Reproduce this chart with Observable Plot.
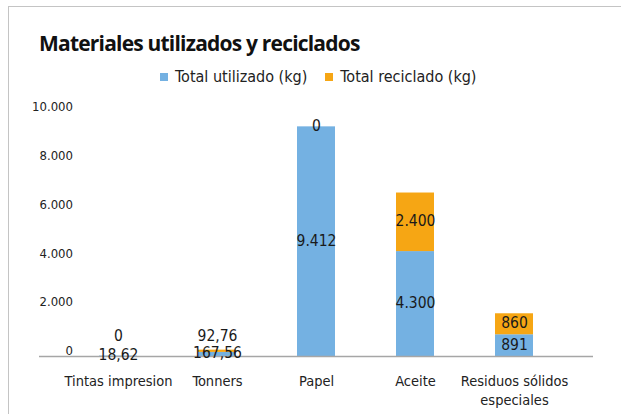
<!DOCTYPE html>
<html>
<head>
<meta charset="utf-8">
<script src="https://cdn.jsdelivr.net/npm/d3@7"></script>
<script src="https://cdn.jsdelivr.net/npm/@observablehq/plot@0.6"></script>
<style>
  html, body { margin: 0; padding: 0; background: #fff; }
  #wrap { position: relative; width: 621px; height: 414px; overflow: hidden; background: #fff;
    font-family: "Liberation Sans Narrow", "DejaVu Sans Condensed", "Roboto", sans-serif; }
  #frame { position: absolute; left: 8px; top: 6px; width: 700px; height: 500px;
    border-left: 1.5px solid #c4c4c4; border-top: 1.5px solid #c4c4c4; }
  #title { position: absolute; left: 39px; top: 29px; font-family: "Open Sans", "Noto Sans", sans-serif;
    font-weight: 700; font-size: 21px; color: #111; letter-spacing: -0.8px; white-space: nowrap; }
  #legend { position: absolute; left: 160px; top: 67px; font-size: 16px; color: #222; white-space: nowrap; display: flex; align-items: center; }
  .sw { display: inline-block; width: 8px; height: 8px; margin-right: 7px; }
  .item { display: flex; align-items: center; margin-right: 18px; }
  #chart { position: absolute; left: 0; top: 0; }
</style>
</head>
<body>
<div id="wrap">
  <div id="frame"></div>
  <div id="chart"></div>
  <div id="title">Materiales utilizados y reciclados</div>
  <div id="legend"></div>
</div>
<script>
const categorias = ["Tintas impresion", "Tonners", "Papel", "Aceite", "Residuos sólidos especiales"];
const utilizado = [18.62, 167.56, 9412, 4300, 891];
const reciclado = [0, 92.76, 0, 2400, 860];
const series = ["Total utilizado (kg)", "Total reciclado (kg)"];
const colores = ["#74b1e2", "#f6a614"];
const yTicks = [0, 2000, 4000, 6000, 8000, 10000];

const loc = d3.formatLocale({decimal: ",", thousands: ".", grouping: [3], currency: ["", "€"]});
const fmt = loc.format(",.2~f");

const rows = [];
categorias.forEach((c, i) => {
  const u = utilizado[i], r = reciclado[i];
  const small = (u + r) < 1000 && u < 500;
  rows.push({cat: c, serie: series[0], value: u, mid: u / 2, small: false});
  rows.push({cat: c, serie: series[1], value: r, mid: small ? 0 : u + r / 2, small});
});

// legend
const leg = d3.select("#legend");
series.forEach((s, i) => {
  const it = leg.append("div").attr("class", "item");
  it.append("span").attr("class", "sw").style("background", colores[i]);
  it.append("span").text(s);
});

const font = '"Liberation Sans Narrow", "DejaVu Sans Condensed", Roboto, sans-serif';

const chart = Plot.plot({
  width: 621,
  height: 414,
  marginLeft: 68.5,
  marginRight: 57.5,
  marginTop: 112,
  marginBottom: 58,
  style: {fontFamily: font, background: "transparent", color: "#222"},
  x: {domain: categorias, paddingInner: 0.616, paddingOuter: 0.308, label: null},
  y: {domain: [0, 10000], label: null},
  color: {domain: series, range: colores},
  marks: [
    Plot.barY(rows, {x: "cat", y: "value", fill: "serie", order: series}),
    Plot.ruleY([0], {stroke: "#a6a6a6", strokeWidth: 1.3, insetLeft: -29.5, insetRight: -29.5}),
    Plot.axisY(yTicks, {tickSize: 0, tickPadding: 0, dx: 4, dy: -5.5, fontSize: 13, fill: "#222",
      tickFormat: loc.format(",")}),
    Plot.axisX({tickSize: 0, tickPadding: 16, fontSize: 14.5, fill: "#222", lineHeight: 1.3,
      tickFormat: d => d.length > 20 ? d.replace(/ (\S+)$/, "\n$1") : d}),
    Plot.text(rows.filter(d => !d.small), {x: "cat", y: "mid", text: d => fmt(d.value), fontSize: 15.5, fill: "#1a1a1a", dy: -1}),
    Plot.text(rows.filter(d => d.small), {x: "cat", y: "mid", text: d => fmt(d.value), fontSize: 15.5, fill: "#1a1a1a", dy: -20})
  ]
});
document.getElementById("chart").appendChild(chart);
</script>
</body>
</html>
